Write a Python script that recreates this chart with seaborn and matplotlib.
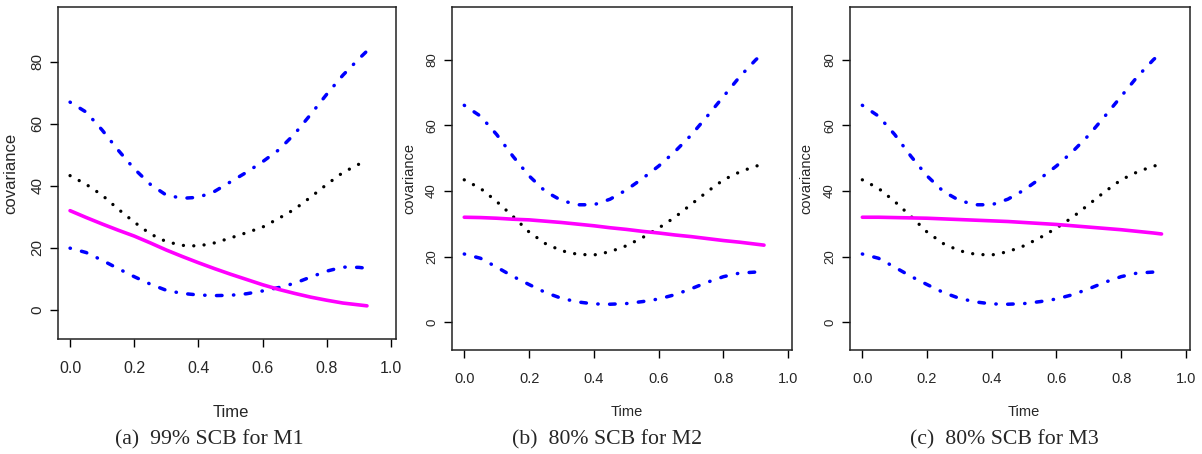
import numpy as np
import pandas as pd
import matplotlib
matplotlib.use("Agg")
import matplotlib.pyplot as plt
import seaborn as sns

# time grid
time = [0.0, 0.05, 0.1, 0.15, 0.2, 0.25, 0.3, 0.35, 0.4, 0.45, 0.5,
        0.55, 0.6, 0.65, 0.7, 0.75, 0.8, 0.85, 0.9, 0.925]

# panel (a) M1, 99% SCB
upper_a = [67.0, 63.8, 58.0, 51.5, 45.5, 40.5, 37.0, 36.0, 36.3, 38.2, 41.3,
           44.4, 47.8, 51.6, 56.8, 63.1, 69.6, 75.7, 81.0, 83.5]
est_a = [43.3, 40.5, 37.0, 32.5, 28.3, 24.5, 22.0, 20.8, 20.6, 21.6, 23.2,
         24.9, 26.7, 29.5, 32.5, 36.4, 40.5, 44.3, 47.0, 48.5]
true_a = [32.0, 29.8, 27.7, 25.7, 23.8, 21.6, 19.3, 17.2, 15.2, 13.3, 11.5,
          9.8, 8.1, 6.6, 5.3, 4.1, 3.1, 2.2, 1.6, 1.3]
lower_a = [19.9, 18.5, 16.0, 13.3, 10.7, 8.3, 6.3, 5.3, 4.8, 4.6, 4.7,
           5.2, 6.1, 7.2, 8.6, 10.6, 12.5, 13.8, 13.7, 13.4]

# panels (b) M2 and (c) M3, 80% SCB (same band)
upper_bc = [66.1, 62.8, 57.2, 50.6, 44.6, 39.9, 37.1, 35.8, 35.8, 37.5, 40.3,
            43.8, 47.6, 52.0, 57.0, 62.8, 68.8, 74.8, 80.0, 82.2]
est_bc = [43.4, 40.8, 36.8, 32.3, 27.5, 24.0, 21.8, 20.7, 20.5, 21.5, 23.3,
          25.8, 28.7, 32.0, 35.9, 39.8, 43.4, 45.8, 47.6, 48.0]
lower_bc = [20.8, 19.5, 16.8, 14.0, 11.5, 9.1, 7.3, 6.2, 5.6, 5.5, 5.7,
            6.3, 7.1, 8.4, 10.2, 12.2, 13.9, 15.0, 15.3, 15.1]
true_b = [32.0, 31.9, 31.7, 31.4, 31.2, 30.8, 30.4, 29.9, 29.4, 28.8, 28.3,
          27.7, 27.2, 26.6, 26.1, 25.5, 24.9, 24.4, 23.8, 23.5]
true_c = [32.0, 32.0, 31.9, 31.8, 31.7, 31.5, 31.3, 31.1, 30.9, 30.7, 30.4,
          30.1, 29.8, 29.4, 29.0, 28.6, 28.2, 27.7, 27.2, 26.9]

captions = ["(a)  99% SCB for M1", "(b)  80% SCB for M2", "(c)  80% SCB for M3"]
x_ticks = [0.0, 0.2, 0.4, 0.6, 0.8, 1.0]
y_ticks = [0, 20, 40, 60, 80]

sns.set_style("ticks")
plt.rcParams['font.family'] = ['Liberation Sans', 'DejaVu Sans']
narrow = ['Liberation Sans Narrow', 'Liberation Sans', 'DejaVu Sans']

fig = plt.figure(figsize=(12.02, 4.54), dpi=100)

panels = [
    dict(rect=[0.0483, 0.2533, 0.2812, 0.7313], xlim=(-0.0374, 1.0156), ylim=(-9.4, 97.7),
         upper=upper_a, est=est_a, true=true_a, lower=lower_a,
         ylab_x=-0.118, xlab_y=-0.20, fs=12, xfs=11.5, cap_x=209),
    dict(rect=[0.3760, 0.2291, 0.2829, 0.7555], xlim=(-0.038, 1.0114), ylim=(-8.44, 96.05),
         upper=upper_bc, est=est_bc, true=true_b, lower=lower_bc,
         ylab_x=-0.106, xlab_y=-0.16, fs=10.5, xfs=10.5, cap_x=607),
    dict(rect=[0.7072, 0.2291, 0.2829, 0.7555], xlim=(-0.038, 1.0133), ylim=(-8.44, 96.05),
         upper=upper_bc, est=est_bc, true=true_c, lower=lower_bc,
         ylab_x=-0.109, xlab_y=-0.16, fs=10.5, xfs=10.5, cap_x=1004),
]

dotdash = (0, (0.1, 3.3, 1.6, 3.3))
dotted = (0, (0.01, 3.1))

for p, cap in zip(panels, captions):
    ax = fig.add_axes(p['rect'])
    df = pd.DataFrame({'Time': time, 'upper': p['upper'], 'est': p['est'],
                       'true': p['true'], 'lower': p['lower']})
    sns.lineplot(data=df, x='Time', y='upper', ax=ax, color='#0000ff', lw=2.5,
                 linestyle=dotdash, dash_capstyle='round')
    sns.lineplot(data=df, x='Time', y='lower', ax=ax, color='#0000ff', lw=2.5,
                 linestyle=dotdash, dash_capstyle='round')
    sns.lineplot(data=df, x='Time', y='est', ax=ax, color='black', lw=2.4,
                 linestyle=dotted, dash_capstyle='round')
    sns.lineplot(data=df, x='Time', y='true', ax=ax, color='#ff00ff', lw=2.6)

    ax.set_xlim(*p['xlim'])
    ax.set_ylim(*p['ylim'])
    ax.set_xticks(x_ticks)
    ax.set_xticklabels([f"{v:.1f}" for v in x_ticks], family=narrow, fontsize=p['xfs'])
    ax.set_yticks(y_ticks)
    ax.set_yticklabels([str(v) for v in y_ticks], rotation=90, va='center',
                       fontsize=p['fs'] - 1)
    ax.tick_params(axis='x', length=6, width=1, pad=10, color='black')
    ax.tick_params(axis='y', length=6, width=1, pad=4, color='black')
    for s in ax.spines.values():
        s.set_visible(True)
        s.set_linewidth(1.1)
        s.set_color('#222222')

    ax.set_xlabel('Time', family=narrow, fontsize=p['fs'])
    x_mid = (0.5 - p['xlim'][0]) / (p['xlim'][1] - p['xlim'][0])
    ax.xaxis.set_label_coords(x_mid, p['xlab_y'])
    ax.set_ylabel('covariance', fontsize=p['fs'])
    ax.yaxis.set_label_coords(p['ylab_x'], 0.5)

    fig.text(p['cap_x'] / 1202, 0.032, cap, ha='center', va='center',
             family=['Liberation Serif', 'DejaVu Serif'], fontsize=15.7)

fig.savefig("out.png", dpi=100)
